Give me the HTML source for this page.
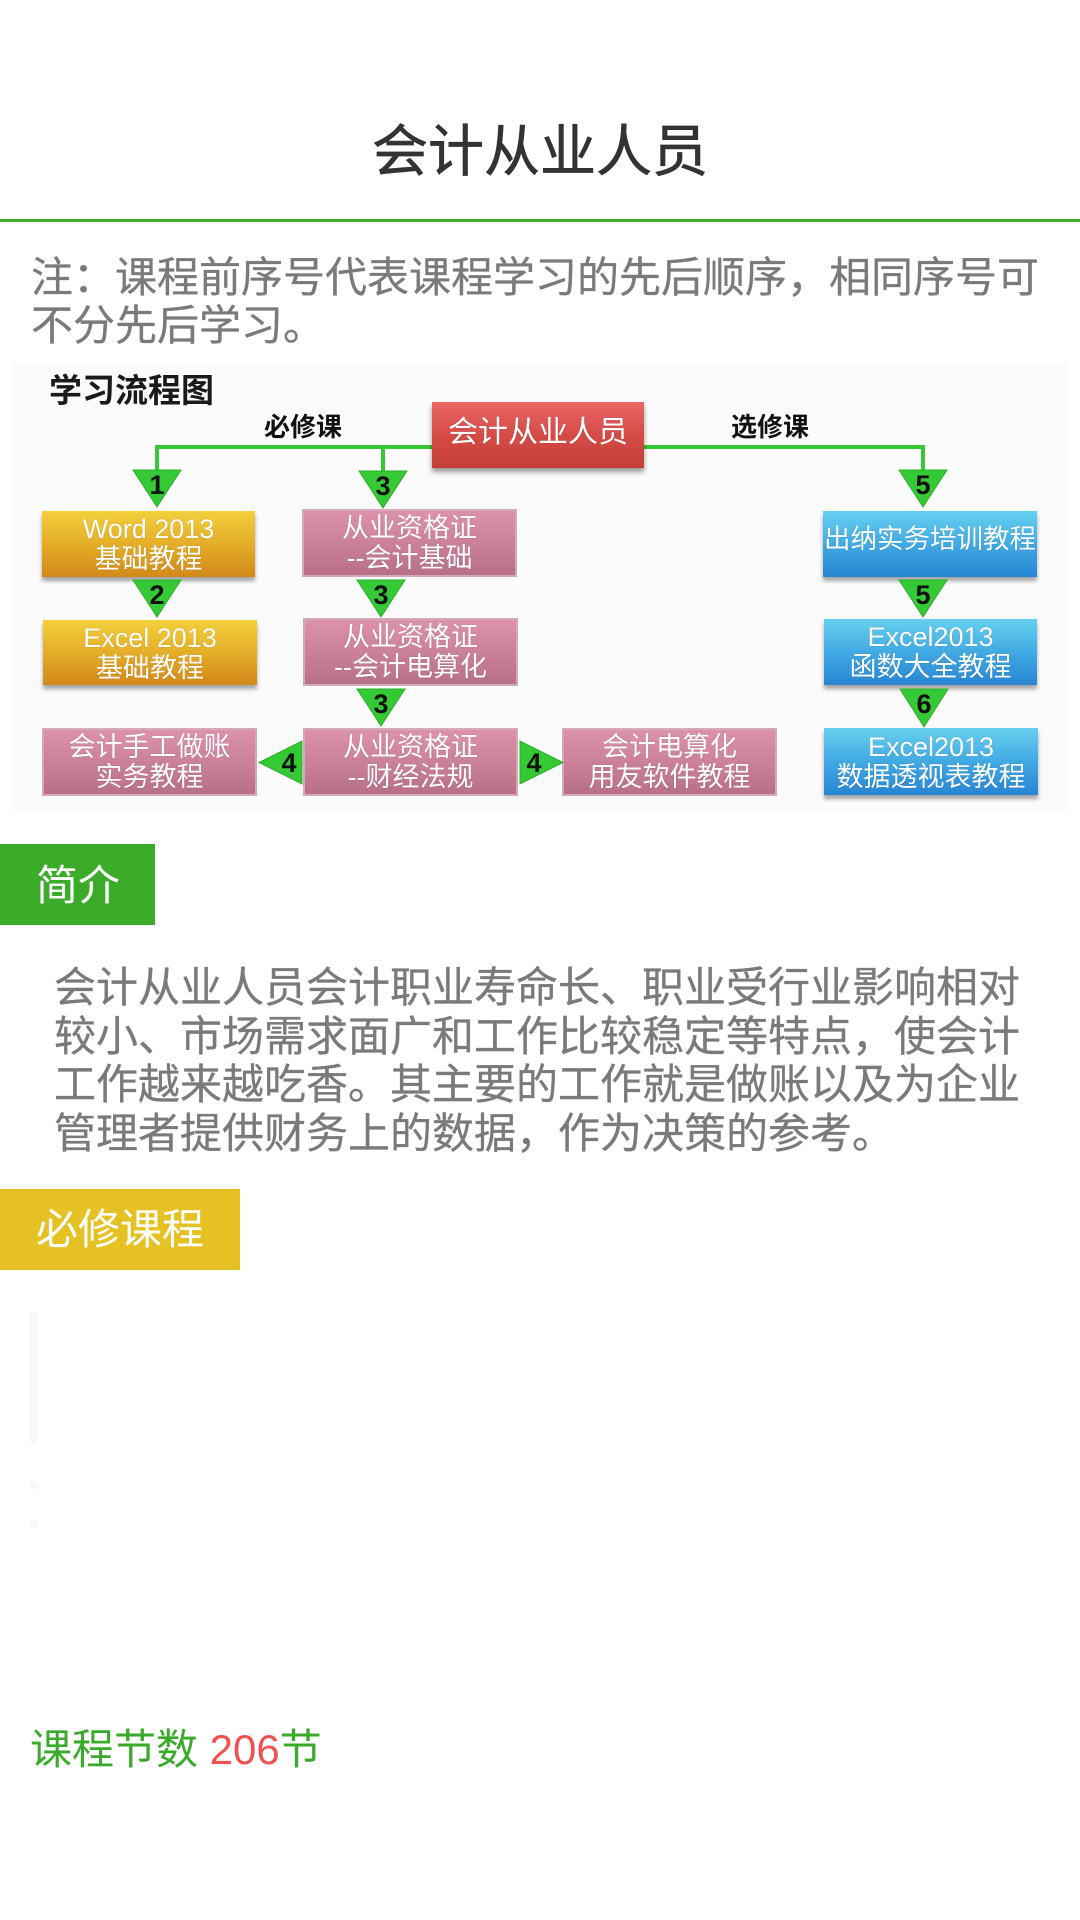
<!DOCTYPE html>
<html>
<head>
<meta charset="utf-8">
<style>
  html,body{margin:0;padding:0;}
  body{width:1080px;height:1920px;overflow:hidden;background:#fff;position:relative;
    font-family:"Liberation Sans","Noto Sans CJK SC",sans-serif;}
  .abs{position:absolute;white-space:nowrap;}
  .title{left:0;top:124px;width:1080px;text-align:center;font-size:56px;line-height:56px;color:#333;-webkit-text-stroke:0.7px #333;}
  .hline{left:0;top:219px;width:1080px;height:3px;background:#3dab2b;}
  .note{left:31px;top:254px;font-size:42px;line-height:48px;color:#7a7a7a;-webkit-text-stroke:0.3px #7a7a7a;}
  .chart{left:12px;top:363px;width:1055px;height:448px;background:#fbfbfb;}
  .ctitle{left:49px;top:374px;font-size:33px;line-height:34px;font-weight:bold;color:#1a1a1a;}
  .lbl{font-size:26px;line-height:28px;font-weight:bold;color:#111;}
  .box{position:absolute;display:flex;flex-direction:column;align-items:center;justify-content:center;
    color:#fff;font-size:27px;line-height:30px;white-space:nowrap;text-shadow:0 0 1px rgba(0,0,0,0.25);box-sizing:border-box;}
  .gold{background:linear-gradient(#f3d03c,#e3aa27 55%,#d2891a);box-shadow:0 4px 4px rgba(0,0,0,0.35);}
  .pink{background:linear-gradient(#dc92aa,#c97f97 55%,#b86f88);border:2px solid #d4a9b8;}
  .blue{background:linear-gradient(#66d0f0,#3ea6e2 55%,#2885d2);box-shadow:0 4px 4px rgba(0,0,0,0.35);}
  .red{background:linear-gradient(#ec6666,#d54c47 50%,#c63e38);box-shadow:0 4px 5px rgba(0,0,0,0.4);font-size:30px;}
  .tab{position:absolute;left:0;color:#fff;font-size:42px;line-height:42px;box-sizing:border-box;padding-left:36px;}
  .para{left:54px;top:964px;font-size:42px;line-height:48.5px;color:#7a7a7a;-webkit-text-stroke:0.3px #7a7a7a;}
  .count{left:30px;top:1728px;font-size:42px;line-height:44px;color:#3aaa2a;}
</style>
</head>
<body>
  <div class="abs title">会计从业人员</div>
  <div class="abs hline"></div>
  <div class="abs note">注：课程前序号代表课程学习的先后顺序，相同序号可<br>不分先后学习。</div>

  <div class="abs chart"></div>
  <div class="abs ctitle">学习流程图</div>
  <div class="abs lbl" style="left:264px;top:413px;">必修课</div>
  <div class="abs lbl" style="left:731px;top:413px;">选修课</div>

  <svg class="abs" style="left:0;top:0;" width="1080" height="830" viewBox="0 0 1080 830">
    <g fill="none" stroke="#35c935" stroke-width="4">
      <path d="M157 474 V447 H440"/>
      <path d="M383 447 V474"/>
      <path d="M640 447 H923 V474"/>
    </g>
  </svg>

  <div class="box red" style="left:432px;top:402px;width:212px;height:66px;padding-bottom:4px;">会计从业人员</div>

  <div class="box gold" style="left:42px;top:511px;width:213px;height:66px;"><span>Word 2013</span><span>基础教程</span></div>
  <div class="box gold" style="left:43px;top:620px;width:214px;height:65px;"><span>Excel 2013</span><span>基础教程</span></div>

  <div class="box pink" style="left:302px;top:509px;width:215px;height:68px;"><span>从业资格证</span><span>--会计基础</span></div>
  <div class="box pink" style="left:303px;top:618px;width:215px;height:68px;"><span>从业资格证</span><span>--会计电算化</span></div>
  <div class="box pink" style="left:303px;top:728px;width:215px;height:68px;"><span>从业资格证</span><span>--财经法规</span></div>
  <div class="box pink" style="left:42px;top:728px;width:215px;height:68px;"><span>会计手工做账</span><span>实务教程</span></div>
  <div class="box pink" style="left:562px;top:728px;width:215px;height:68px;"><span>会计电算化</span><span>用友软件教程</span></div>

  <div class="box blue" style="left:823px;top:511px;width:214px;height:66px;padding-bottom:10px;font-size:26.5px;">出纳实务培训教程</div>
  <div class="box blue" style="left:824px;top:619px;width:213px;height:66px;"><span>Excel2013</span><span>函数大全教程</span></div>
  <div class="box blue" style="left:824px;top:728px;width:214px;height:67px;"><span>Excel2013</span><span>数据透视表教程</span></div>

  <svg class="abs" style="left:0;top:0;" width="1080" height="830" viewBox="0 0 1080 830">
    <g fill="#35c935" stroke="#2bb02b" stroke-width="1">
      <polygon points="133,470 181,470 157,507"/>
      <polygon points="359,471 407,471 383,508"/>
      <polygon points="899,470 947,470 923,507"/>
      <polygon points="133,580 181,580 157,617"/>
      <polygon points="357,580 405,580 381,617"/>
      <polygon points="899,580 947,580 923,617"/>
      <polygon points="357,689 405,689 381,726"/>
      <polygon points="900,689 948,689 924,727"/>
      <polygon points="302,741 302,784 259,762.5"/>
      <polygon points="520,741 520,784 563,762.5"/>
    </g>
    <g font-family="Liberation Sans, sans-serif" font-size="27" font-weight="bold" fill="#111" text-anchor="middle">
      <text x="157" y="494">1</text>
      <text x="383" y="495">3</text>
      <text x="923" y="494">5</text>
      <text x="157" y="604">2</text>
      <text x="381" y="604">3</text>
      <text x="923" y="604">5</text>
      <text x="381" y="713">3</text>
      <text x="924" y="713">6</text>
      <text x="289" y="772">4</text>
      <text x="534" y="772">4</text>
    </g>
  </svg>

  <div class="tab" style="top:844px;width:155px;height:81px;background:#3cab29;padding-top:21px;">简介</div>
  <div class="abs para">会计从业人员会计职业寿命长、职业受行业影响相对<br>较小、市场需求面广和工作比较稳定等特点，使会计<br>工作越来越吃香。其主要的工作就是做账以及为企业<br>管理者提供财务上的数据，作为决策的参考。</div>

  <div class="tab" style="top:1189px;width:240px;height:81px;background:#e6c124;padding-top:20px;">必修课程</div>

  <div class="abs" style="left:30px;top:1312px;width:7px;height:131px;background:#f6f9fc;"></div>
  <div class="abs" style="left:30px;top:1482px;width:7px;height:7px;background:#f6f9fc;"></div>
  <div class="abs" style="left:30px;top:1520px;width:7px;height:7px;background:#f6f9fc;"></div>

  <div class="abs count">课程节数 <span style="color:#f05050;">206</span>节</div>
</body>
</html>
